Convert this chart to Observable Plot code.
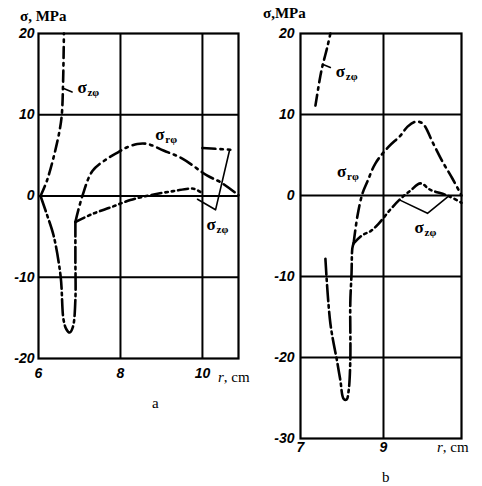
<!DOCTYPE html>
<html>
<head>
<meta charset="utf-8">
<script src="https://cdn.jsdelivr.net/npm/d3@7"></script>
<script src="https://cdn.jsdelivr.net/npm/@observablehq/plot@0.6"></script>
<style>
  html, body { margin: 0; padding: 0; background: #fff; }
  #wrap { position: relative; width: 482px; height: 486px; overflow: hidden; }
  #wrap svg { position: absolute; top: 0; overflow: visible; }
  .lbl { position: absolute; font-family: "Liberation Serif", serif; color: #000; white-space: nowrap; line-height: 1; }
  .ax { font-size: 15px; font-weight: bold; }
  .rcm { font-size: 15px; }
  .pan { font-size: 15px; }
</style>
</head>
<body>
<div id="wrap">
  <div class="lbl ax" style="left:20px; top:9px;">σ, MPa</div>
  <div class="lbl ax" style="left:263px; top:6px;">σ,MPa</div>
  <div class="lbl rcm" style="left:218px; top:370px;"><i>r</i>, cm</div>
  <div class="lbl rcm" style="left:437px; top:440px;"><i>r</i>, cm</div>
  <div class="lbl pan" style="left:152px; top:396px;">a</div>
  <div class="lbl pan" style="left:382px; top:470px;">b</div>
</div>
<script>
// ---- Panel a data: [r (cm), sigma (MPa)] ----
const aTicksX = [6, 8, 10];
const aTicksY = [-20, -10, 0, 10, 20];
const aGridX = [8, 10];
const aGridY = [-10, 0, 10];
const aZphiUp = [[6.05,0],[6.2,1.8],[6.38,5],[6.52,8.2],[6.57,10.1],[6.6,14],[6.62,20]];
const aTrough = [[6.05,0],[6.22,-2.5],[6.37,-4.9],[6.54,-9.9],[6.61,-15.2],[6.68,-16.4],[6.76,-16.8],[6.84,-16.1],[6.9,-12.7],[6.9,-7.8],[6.9,-3.2]];
const aRphi = [[6.9,-3.2],[7.07,0],[7.32,3.1],[7.68,4.6],[7.95,5.4],[8.12,5.9],[8.41,6.4],[8.66,6.4],[9.05,5.6],[9.51,4.6],[10.12,2.5],[10.44,1.7],[10.88,0.1]];
const aZphiLow = [[6.9,-3.2],[7.32,-2.2],[7.76,-1.4],[8.24,-0.5],[8.73,0.1],[9.29,0.6],[9.78,0.9],[9.95,0.5]];
const aZphiSeg = [[10.0,5.9],[10.68,5.7]];
const aLeader = [[9.88,-0.4],[10.32,-1.7],[10.66,5.6]];
const aLeaderUp = [[6.63,13.2],[6.82,12.8]];
const aLabels = [
  {r: 6.95, v: 13.3, sub: "zφ"},
  {r: 8.85, v: 7.6, sub: "rφ"},
  {r: 10.1, v: -3.5, sub: "zφ"}
];

// ---- Panel b data ----
const bTicksX = [7, 9];
const bTicksY = [-30, -20, -10, 0, 10, 20];
const bGridX = [9];
const bGridY = [-20, -10, 0, 10];
const bZphiUp = [[7.36,11.1],[7.48,14.8],[7.53,16],[7.65,18.4],[7.72,20]];
const bTrough = [[7.6,-7.8],[7.72,-15.8],[7.89,-20.7],[7.96,-22.8],[8.04,-25.1],[8.11,-25.2],[8.16,-24.1],[8.2,-20.4],[8.2,-13.3],[8.23,-9.6],[8.25,-6.5],[8.28,-5.9]];
const bRphi = [[8.28,-5.9],[8.37,-2.6],[8.49,0.2],[8.61,1.7],[8.81,4.0],[9.12,6.0],[9.41,7.4],[9.58,8.5],[9.77,9.1],[9.94,8.9],[10.2,6.4],[10.42,4.2],[10.66,2.1],[10.88,0]];
const bZphiLow = [[8.28,-5.9],[8.49,-4.9],[8.69,-4.4],[8.88,-3.5],[9.17,-1.7],[9.41,-0.4],[9.65,0.6],[9.89,1.5],[10.13,0.7],[10.54,0],[10.88,-0.9]];
const bLeader = [[9.41,-0.6],[10.06,-2.2],[10.54,-0.2]];
const bLeaderUp = [[7.53,16.2],[7.72,15.8]];
const bLabels = [
  {r: 7.85, v: 15.3, sub: "zφ"},
  {r: 7.88, v: 3.0, sub: "rφ"},
  {r: 9.75, v: -3.9, sub: "zφ"}
];

const tickFont = {fontFamily: "Liberation Sans, sans-serif", fontStyle: "italic", fontWeight: "bold", fontSize: 14};
const fmt = d => d < 0 ? "-" + Math.abs(d) : String(d);
const DASH_ZU = "11,5,2.5,5";
const DASH_R = "13,5,2.5,5";
const DASH_ZL = "10,4,2.5,4,2.5,4";
const DASH_T = "16,4,2.5,4";

function labelMarks(labels) {
  return [
    Plot.text(labels, {x: "r", y: "v", text: () => "σ", fontSize: 17, fontWeight: "bold",
      fontFamily: "Liberation Serif, serif", textAnchor: "start"}),
    Plot.text(labels, {x: "r", y: "v", text: "sub", fontSize: 11, fontWeight: "bold",
      fontFamily: "Liberation Serif, serif", textAnchor: "start", dx: 10, dy: 5})
  ];
}

function curve(data, dash, w = 2.6) {
  return Plot.line(data, {x: d => d[0], y: d => d[1], stroke: "#000", strokeWidth: w,
    strokeDasharray: dash, strokeLinecap: "round", curve: "catmull-rom"});
}

function panel(opt) {
  return Plot.plot({
    width: opt.width, height: opt.height,
    marginLeft: opt.ml, marginRight: opt.mr, marginTop: opt.mt, marginBottom: opt.mb,
    style: {background: "transparent", overflow: "visible"},
    x: {domain: opt.xd},
    y: {domain: opt.yd},
    marks: [
      Plot.ruleX(opt.gx, {stroke: "#000", strokeWidth: 2}),
      Plot.ruleY(opt.gy, {stroke: "#000", strokeWidth: 2}),
      Plot.frame({stroke: "#000", strokeWidth: 2.2}),
      Plot.axisX(opt.tx, {tickSize: 0, tickPadding: opt.txPad, tickFormat: fmt, ...tickFont, label: null}),
      Plot.axisY(opt.ty, {tickSize: 0, tickPadding: opt.tyPad, tickFormat: fmt, ...tickFont, label: null}),
      curve(opt.zu, DASH_ZU),
      curve(opt.tr, DASH_T),
      curve(opt.rp, DASH_R),
      curve(opt.zl, DASH_ZL),
      ...(opt.seg ? [curve(opt.seg, DASH_R)] : []),
      Plot.line(opt.lead, {x: d => d[0], y: d => d[1], stroke: "#000", strokeWidth: 1.6}),
      Plot.line(opt.leadUp, {x: d => d[0], y: d => d[1], stroke: "#000", strokeWidth: 1.6}),
      ...labelMarks(opt.labels)
    ]
  });
}

const wrap = document.getElementById("wrap");
const pa = panel({width: 250, height: 400, ml: 38, mr: 12, mt: 33, mb: 42,
  xd: [6, 10.88], yd: [-20, 20], gx: aGridX, gy: aGridY, tx: aTicksX, ty: aTicksY,
  txPad: 10, tyPad: 4,
  zu: aZphiUp, tr: aTrough, rp: aRphi, zl: aZphiLow, seg: aZphiSeg,
  lead: aLeader, leadUp: aLeaderUp, labels: aLabels});
pa.style.left = "0px";
wrap.appendChild(pa);

const pb = panel({width: 232, height: 486, ml: 50, mr: 21, mt: 33, mb: 48,
  xd: [7, 10.88], yd: [-30, 20], gx: bGridX, gy: bGridY, tx: bTicksX, ty: bTicksY,
  txPad: 4, tyPad: 6,
  zu: bZphiUp, tr: bTrough, rp: bRphi, zl: bZphiLow, seg: null,
  lead: bLeader, leadUp: bLeaderUp, labels: bLabels});
pb.style.left = "250px";
wrap.appendChild(pb);
</script>
</body>
</html>
